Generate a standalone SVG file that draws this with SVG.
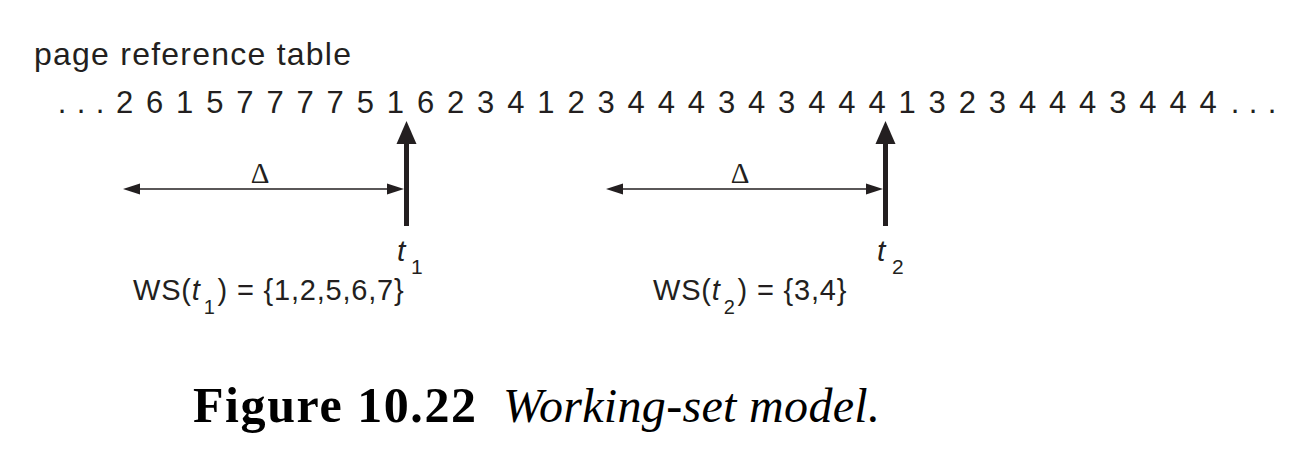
<svg xmlns="http://www.w3.org/2000/svg" width="1298" height="458" viewBox="0 0 1298 458">
<style>
.sans{font-family:"Liberation Sans",Arial,sans-serif;fill:#231f20}
.it{font-style:italic}
.delta{font-family:"Liberation Serif","Times New Roman",serif;font-size:29px;fill:#231f20;text-anchor:middle}
.ws{font-size:29px;letter-spacing:0.8px}
.thin{stroke:#231f20;stroke-width:1.6;fill:none}
.thick{stroke:#231f20;stroke-width:5;fill:none}
.head{fill:#231f20}
.cap{font-family:"Liberation Serif","Times New Roman",serif;fill:#000}
</style>
<rect width="1298" height="458" fill="#fff"/>
<g id="title">
<text class="sans" x="34" y="65" font-size="32" textLength="317" lengthAdjust="spacing">page reference table</text>
</g>
<g id="sequence">
<text class="sans" y="113" font-size="31" text-anchor="middle" x="62 71.5 81 90.5 100 112 124.5 139.5 154.6 169.6 184.7 199.7 214.8 229.8 244.9 259.9 275 290 305.1 320.1 335.2 350.2 365.3 380.3 395.4 410.4 425.5 440.5 455.6 470.6 485.7 500.7 515.8 530.8 545.9 560.9 576 591 606.1 621.1 636.2 651.2 666.3 681.3 696.4 711.4 726.5 741.5 756.6 771.6 786.7 801.7 816.8 831.8 846.9 861.9 877 892 907.1 922.1 937.2 952.2 967.3 982.3 997.4 1012.4 1027.5 1042.5 1057.6 1072.6 1087.7 1102.7 1117.8 1132.8 1147.9 1162.9 1178 1193 1208.1 1221 1235 1244 1253 1262 1272">. . . 2 6 1 5 7 7 7 7 5 1 6 2 3 4 1 2 3 4 4 4 3 4 3 4 4 4 1 3 2 3 4 4 4 3 4 4 4 . . .</text>
</g>
<g id="connectors">
<line class="thick" x1="406.5" y1="140" x2="406.5" y2="226"/>
<polygon class="head" points="406.5,121 396.5,144 416.5,144"/>
<line class="thin" x1="135" y1="189" x2="393" y2="189"/>
<polygon class="head" points="123,189 140,183.5 140,194.5"/>
<polygon class="head" points="404,189 387,183.5 387,194.5"/>
<line class="thick" x1="885.5" y1="140" x2="885.5" y2="226"/>
<polygon class="head" points="885.5,121 875.5,144 895.5,144"/>
<line class="thin" x1="618" y1="189" x2="872" y2="189"/>
<polygon class="head" points="606,189 623,183.5 623,194.5"/>
<polygon class="head" points="883,189 866,183.5 866,194.5"/>
</g>
<g id="window1">
<text class="delta" x="260" y="183">Δ</text>
<text class="sans it" x="397" y="261" font-size="30">t</text>
<text class="sans" x="411" y="274" font-size="21">1</text>
<text class="sans ws" x="133" y="300">WS(<tspan class="it">t</tspan><tspan dx="3" dy="14" font-size="20">1</tspan><tspan dx="2" dy="-14">) = {1,2,5,6,7}</tspan></text>
</g>
<g id="window2">
<text class="delta" x="740" y="183">Δ</text>
<text class="sans it" x="877" y="261" font-size="30">t</text>
<text class="sans" x="892" y="274" font-size="21">2</text>
<text class="sans ws" x="653" y="300">WS(<tspan class="it">t</tspan><tspan dx="3" dy="14" font-size="20">2</tspan><tspan dx="2" dy="-14">) = {3,4}</tspan></text>
</g>
<g id="caption">
<text class="cap" x="193" y="422" font-size="50" font-weight="bold" textLength="283" lengthAdjust="spacing">Figure 10.22</text>
<text class="cap" x="503" y="422" font-size="48" font-style="italic" textLength="377" lengthAdjust="spacing">Working-set model.</text>
</g>
</svg>
